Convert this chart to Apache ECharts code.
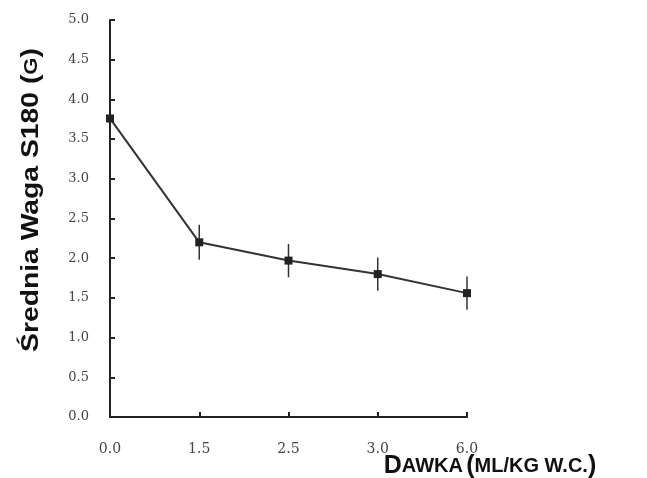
<!DOCTYPE html>
<html>
<head>
<meta charset="utf-8">
<script src="https://cdn.jsdelivr.net/npm/echarts@6/dist/echarts.min.js"></script>
<style>
  html, body { margin: 0; padding: 0; background: #fff; }
  #chart { width: 647px; height: 478px; }
</style>
</head>
<body>
<div id="chart"></div>
<script>
  // dawka (ml/kg w.c.)
  var doses = ['0.0', '1.5', '2.5', '3.0', '6.0'];
  // średnia waga S180 (g)
  var means = [3.76, 2.2, 1.97, 1.8, 1.56];
  var errors = [0, 0.22, 0.21, 0.21, 0.21];

  var errData = doses.map(function (d, i) {
    return [i, means[i] - errors[i], means[i] + errors[i]];
  });

  var myChart = echarts.init(document.getElementById('chart'));
  var labelFont = 'DejaVu Serif';
  var nameFont = '"Liberation Sans", Arial, sans-serif';

  myChart.setOption({
    backgroundColor: '#fff',
    animation: false,
    grid: {
      left: 110,
      top: 20,
      right: 180,
      bottom: 61
    },
    xAxis: {
      type: 'category',
      data: doses,
      boundaryGap: false,
      axisLine: { lineStyle: { color: '#222', width: 2 } },
      axisTick: { inside: true, length: 5, lineStyle: { color: '#222', width: 2 } },
      axisLabel: {
        margin: 25,
        fontFamily: labelFont,
        fontSize: 14,
        color: '#444'
      },
      splitLine: { show: false }
    },
    yAxis: {
      type: 'value',
      min: 0,
      max: 5,
      interval: 0.5,
      axisLine: { show: true, lineStyle: { color: '#222', width: 2 } },
      axisTick: { show: true, inside: true, length: 5, lineStyle: { color: '#222', width: 2 } },
      axisLabel: {
        margin: 21,
        fontFamily: labelFont,
        fontSize: 13,
        color: '#444',
        formatter: function (v) { return v.toFixed(1); }
      },
      splitLine: { show: false }
    },
    graphic: [
      {
        type: 'text',
        x: 32,
        y: 200,
        rotation: Math.PI / 2,
        scaleX: 1.23,
        style: {
          text: 'Średnia Waga S180 ({s|G})',
          align: 'center',
          verticalAlign: 'middle',
          fontFamily: nameFont,
          fontWeight: 'bold',
          fontSize: 23,
          fill: '#111',
          rich: {
            s: { fontFamily: nameFont, fontWeight: 'bold', fontSize: 18, fill: '#111' }
          }
        }
      },
      {
        type: 'text',
        x: 490,
        y: 466,
        style: {
          text: '{b|D}{s|AWKA} {b|(}{s|ML/KG W.C.}{b|)}',
          align: 'center',
          verticalAlign: 'middle',
          fill: '#111',
          rich: {
            b: { fontFamily: nameFont, fontWeight: 'bold', fontSize: 25, fill: '#111' },
            s: { fontFamily: nameFont, fontWeight: 'bold', fontSize: 20, fill: '#111' }
          }
        }
      }
    ],
    series: [
      {
        type: 'line',
        data: means,
        symbol: 'rect',
        symbolSize: 8,
        lineStyle: { color: '#333', width: 2 },
        itemStyle: { color: '#222' },
        z: 3
      },
      {
        type: 'custom',
        data: errData,
        renderItem: function (params, api) {
          var lo = api.coord([api.value(0), api.value(1)]);
          var hi = api.coord([api.value(0), api.value(2)]);
          return {
            type: 'line',
            shape: { x1: lo[0], y1: lo[1], x2: hi[0], y2: hi[1] },
            style: { stroke: '#333', lineWidth: 1.5 }
          };
        },
        z: 2
      }
    ]
  });
</script>
</body>
</html>
